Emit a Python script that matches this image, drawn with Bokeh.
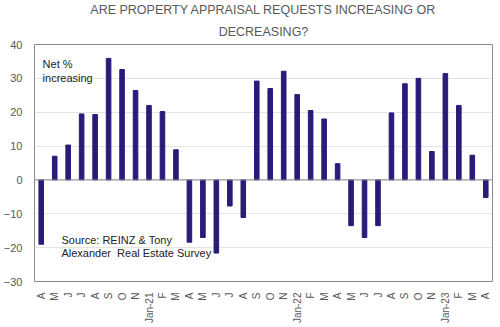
import math
from bokeh.plotting import figure
from bokeh.models import Title, Span, Label, FixedTicker
from bokeh.embed import file_html
from bokeh.resources import INLINE

labels = ["A", "M", "J", "J", "A", "S", "O", "N", "Jan-21", "F", "M",
          "A", "M", "J", "J", "A", "S", "O", "N", "Jan-22", "F", "M",
          "A", "M", "J", "J", "A", "S", "O", "N", "Jan-23", "F", "M", "A"]
values = [-19.0, 7.0, 10.3, 19.5, 19.3, 35.9, 32.6, 26.4, 22.0, 20.2, 8.9,
          -18.4, -17.0, -21.6, -7.7, -11.1, 29.2, 27.0, 32.1, 25.2, 20.5, 18.0,
          4.8, -13.5, -17.0, -13.5, 19.8, 28.4, 30.0, 8.4, 31.4, 22.0, 7.3, -5.2]
y_ticks = [-30, -20, -10, 0, 10, 20, 30, 40]

xs = list(range(len(values)))
FONT = "Liberation Sans"
GREY = "#595959"

p = figure(width=500, height=327, output_backend="svg", toolbar_location=None,
           x_range=(-0.5, len(values) - 0.5), y_range=(-30, 40),
           min_border_left=30, min_border_right=8, min_border_top=6, min_border_bottom=46)

p.vbar(x=xs, top=values, bottom=0, width=0.34, color="#2a1a7a")

p.add_layout(Title(text="DECREASING?", align="center", text_font=FONT,
                   text_font_size="12.5px", text_font_style="normal", text_color=GREY,
                   standoff=12, text_line_height=1.0), "above")
p.add_layout(Title(text="ARE PROPERTY APPRAISAL REQUESTS INCREASING OR", align="center",
                   text_font=FONT, text_font_size="12.5px", text_font_style="normal",
                   text_color=GREY, standoff=0, text_line_height=1.0), "above")

p.xaxis.ticker = FixedTicker(ticks=xs)
p.xaxis.major_label_overrides = {i: l for i, l in enumerate(labels)}
p.xaxis.major_label_orientation = math.pi / 2
p.xaxis.major_label_text_font = FONT
p.xaxis.major_label_text_font_size = "10px"
p.xaxis.major_label_text_color = GREY
p.xaxis.axis_line_color = None
p.xaxis.major_tick_line_color = None
p.xaxis.minor_tick_line_color = None
p.xaxis.major_label_standoff = 5

p.yaxis.ticker = FixedTicker(ticks=y_ticks)
p.yaxis.major_label_text_font = FONT
p.yaxis.major_label_text_font_size = "11px"
p.yaxis.major_label_text_color = GREY
p.yaxis.axis_line_color = None
p.yaxis.major_tick_line_color = None
p.yaxis.minor_tick_line_color = None
p.yaxis.major_label_standoff = 6

p.xgrid.grid_line_color = None
p.ygrid.grid_line_color = "#e4e4e4"
p.outline_line_color = "#8a8a8a"
p.outline_line_width = 1

p.add_layout(Span(location=0, dimension="width", line_color="#8a8a8a", line_width=1))

p.add_layout(Label(x=0.1, y=36, text="Net %\nincreasing", text_font=FONT,
                   text_font_size="11px", text_color="#222222", text_baseline="top",
                   text_line_height=1.15))
p.add_layout(Label(x=1.5, y=-16, text="Source: REINZ & Tony\nAlexander\u00a0 Real Estate Survey",
                   text_font=FONT, text_font_size="11px", text_color="#222222",
                   text_baseline="top", text_line_height=1.1))

open("out.html", "w").write(file_html(p, INLINE))
